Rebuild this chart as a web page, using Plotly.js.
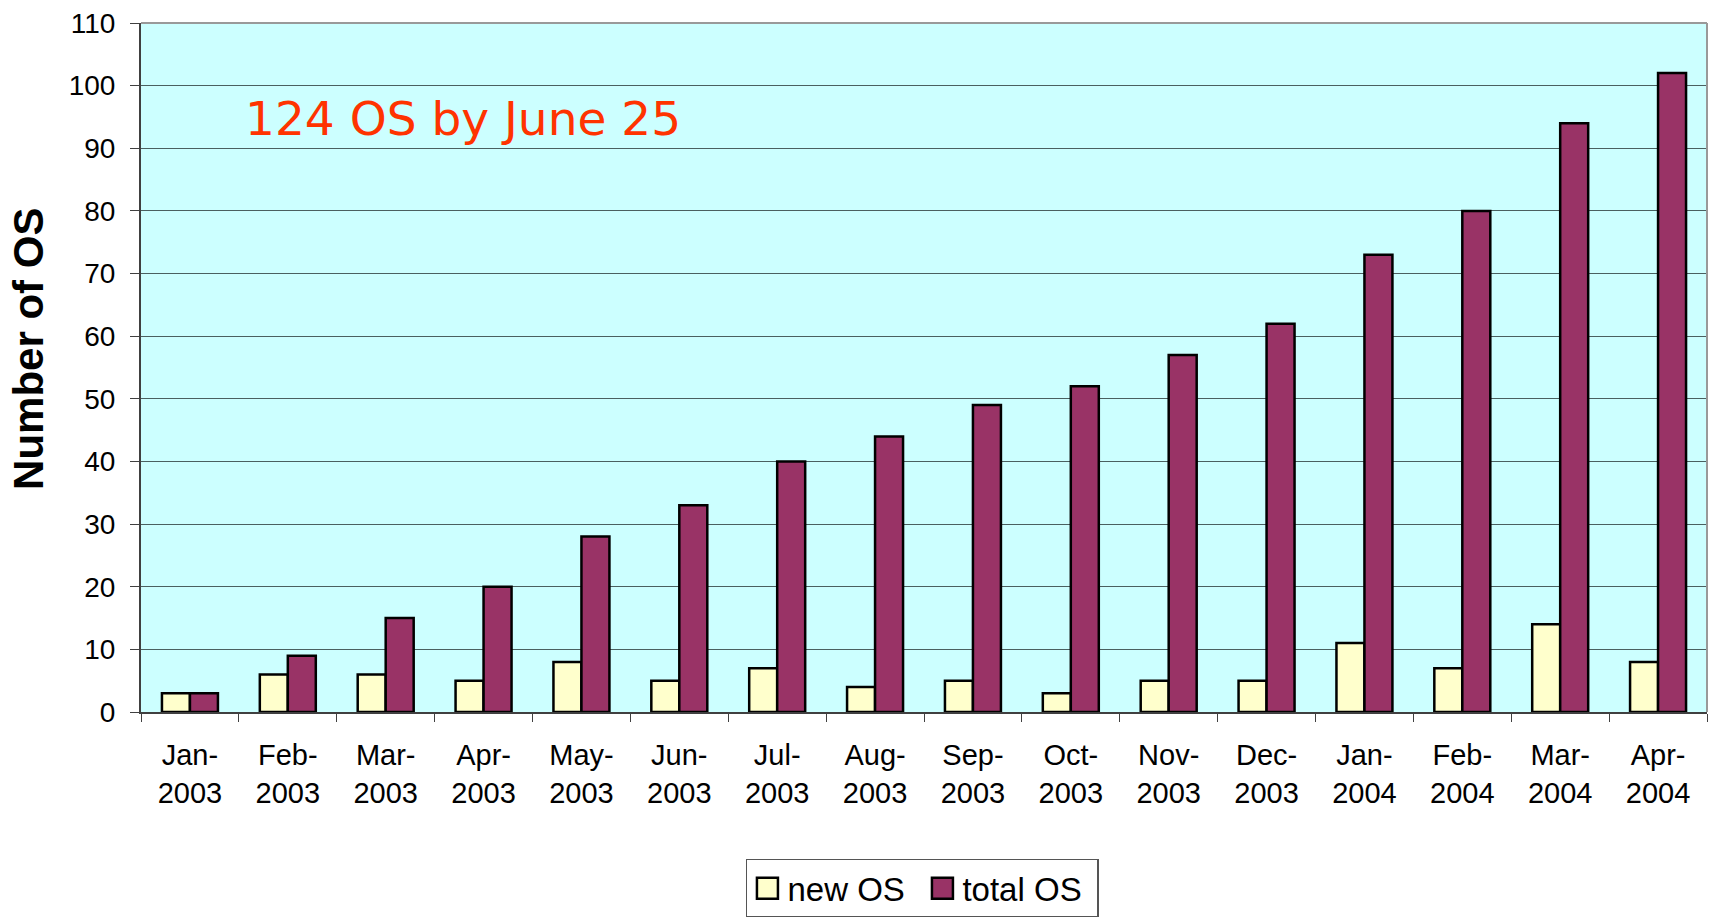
<!DOCTYPE html>
<html>
<head>
<meta charset="utf-8">
<script src="https://cdn.plot.ly/plotly-3.0.1.min.js"></script>
<style>
  html, body { margin: 0; padding: 0; background: #ffffff; }
  #chart { width: 1714px; height: 917px; }
</style>
</head>
<body>
<div id="chart"></div>
<script>
// ---- Data ----
const categories = [
  "Jan-2003", "Feb-2003", "Mar-2003", "Apr-2003", "May-2003", "Jun-2003",
  "Jul-2003", "Aug-2003", "Sep-2003", "Oct-2003", "Nov-2003", "Dec-2003",
  "Jan-2004", "Feb-2004", "Mar-2004", "Apr-2004"
];
const tickLabels = [
  "Jan-<br>2003", "Feb-<br>2003", "Mar-<br>2003", "Apr-<br>2003", "May-<br>2003", "Jun-<br>2003",
  "Jul-<br>2003", "Aug-<br>2003", "Sep-<br>2003", "Oct-<br>2003", "Nov-<br>2003", "Dec-<br>2003",
  "Jan-<br>2004", "Feb-<br>2004", "Mar-<br>2004", "Apr-<br>2004"
];
const newOS   = [3, 6, 6, 5, 8, 5, 7, 4, 5, 3, 5, 5, 11, 7, 14, 8];
const totalOS = [3, 9, 15, 20, 28, 33, 40, 44, 49, 52, 57, 62, 73, 80, 94, 102];
const seriesNames = ["new OS", "total OS"];
const yTitle = "Number of OS";
const noteText = "124 OS by June 25";

const traces = [
  {
    type: "bar", name: seriesNames[0], x: categories, y: newOS,
    marker: { color: "#FFFFCC", line: { color: "#000000", width: 2.5 } },
    hoverinfo: "x+y+name"
  },
  {
    type: "bar", name: seriesNames[1], x: categories, y: totalOS,
    marker: { color: "#993366", line: { color: "#000000", width: 2.5 } },
    hoverinfo: "x+y+name"
  }
];

const layout = {
  width: 1714, height: 917,
  margin: { l: 141, r: 7, t: 23, b: 205, pad: 0, autoexpand: false },
  paper_bgcolor: "#FFFFFF",
  plot_bgcolor: "#CCFFFF",
  barmode: "group",
  bargap: 0.428,
  bargroupgap: 0,
  font: { family: "Liberation Sans, Arial, sans-serif", color: "#000000", size: 28 },
  xaxis: {
    type: "category",
    tickmode: "array",
    tickvals: categories,
    ticktext: tickLabels,
    tickson: "boundaries",
    ticks: "outside", ticklen: 8, tickwidth: 1, tickcolor: "#404040",
    tickfont: { family: "Liberation Sans, Arial, sans-serif", size: 29, color: "#000000" },
    ticklabelstandoff: 16,
    showline: true, linecolor: "#404040", linewidth: 2,
    showgrid: false, zeroline: false,
    automargin: false, fixedrange: true
  },
  yaxis: {
    range: [0, 110], dtick: 10, tick0: 0,
    ticks: "outside", ticklen: 9, tickwidth: 1, tickcolor: "#404040",
    tickfont: { family: "Liberation Sans, Arial, sans-serif", size: 28, color: "#000000" },
    ticklabelstandoff: 9,
    showline: true, linecolor: "#404040", linewidth: 2,
    showgrid: true, gridcolor: "#4A6060", gridwidth: 1,
    zeroline: false,
    automargin: false, fixedrange: true
  },
  showlegend: true,
  legend: {
    orientation: "h",
    x: 0.499, xanchor: "center",
    y: -0.213, yanchor: "top",
    bgcolor: "#FFFFFF",
    bordercolor: "#555555", borderwidth: 1.5,
    entrywidth: 130,
    font: { family: "Liberation Sans, Arial, sans-serif", size: 33, color: "#000000" },
    traceorder: "normal",
    itemclick: false, itemdoubleclick: false
  },
  annotations: [
    {
      text: noteText,
      xref: "paper", yref: "paper",
      x: 0.065, xanchor: "left",
      y: 0.861, yanchor: "middle",
      showarrow: false,
      font: { family: "DejaVu Sans, Verdana, sans-serif", size: 47, color: "#FF3300" }
    },
    {
      // y-axis title
      text: "<b>" + yTitle + "</b>",
      xref: "paper", yref: "paper",
      x: -0.0715, xanchor: "center",
      y: 0.527, yanchor: "middle",
      textangle: -90,
      showarrow: false,
      font: { family: "Liberation Sans, Arial, sans-serif", size: 42, color: "#000000" }
    }
  ],
  shapes: [
    { type: "line", xref: "paper", yref: "paper", x0: 0, x1: 1, y0: 1, y1: 1, line: { color: "#999999", width: 2 } },
    { type: "line", xref: "paper", yref: "paper", x0: 1, x1: 1, y0: 0, y1: 1, line: { color: "#999999", width: 2 } }
  ]
};

Plotly.newPlot("chart", traces, layout, { displayModeBar: false }).then(function (gd) {
  // enlarge legend swatches to match the reference's larger squares
  document.querySelectorAll(".legend .legendpoints path").forEach(function (p) {
    p.setAttribute("d", "M10.5,10.5H-10.5V-10.5H10.5Z");
  });
});
</script>
</body>
</html>
